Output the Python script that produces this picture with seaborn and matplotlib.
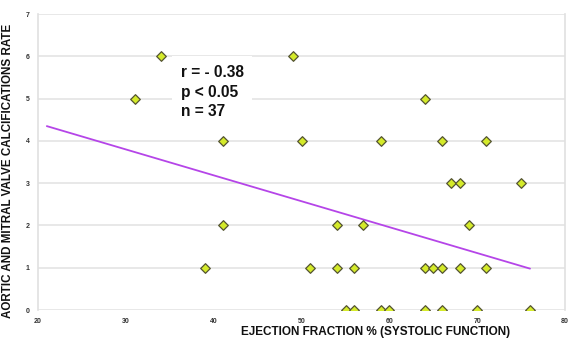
import matplotlib.pyplot as plt
import pandas as pd
import numpy as np
import seaborn as sns

# ejection fraction (%) and calcification rate
ef = [34, 49,
      31, 64,
      41, 50, 59, 66, 71,
      67, 68, 75,
      41, 54, 57, 69,
      39, 51, 54, 56, 64, 65, 66, 68, 71,
      55, 56, 59, 60, 64, 66, 70, 76]
rate = [6, 6,
        5, 5,
        4, 4, 4, 4, 4,
        3, 3, 3,
        2, 2, 2, 2,
        1, 1, 1, 1, 1, 1, 1, 1, 1,
        0, 0, 0, 0, 0, 0, 0, 0]

# trend line end points
fit_x = [21, 76]
fit_y = [4.35, 0.98]

x_ticks = [20, 30, 40, 50, 60, 70, 80]
y_ticks = [0, 1, 2, 3, 4, 5, 6, 7]

df = pd.DataFrame({"ef": ef, "rate": rate})
fit = pd.DataFrame({"x": fit_x, "y": fit_y})

sns.set_style("white")
plt.rcParams['font.family'] = ['Liberation Sans', 'DejaVu Sans']

fig = plt.figure(figsize=(5.68, 3.43), dpi=100)
ax = fig.add_axes([0.067, 0.096, 0.928, 0.863])

for yv in y_ticks:
    ax.axhline(yv, color="#e4e4e4", linewidth=1.2, zorder=0)

sns.lineplot(data=fit, x="x", y="y", color="#b545e8", linewidth=1.3, ax=ax, zorder=2)
sns.scatterplot(data=df, x="ef", y="rate", marker="D", s=24, color="#d4ea2a",
                edgecolor="#555533", linewidth=0.9, ax=ax, zorder=3)

ax.set_xlim(20, 80)
ax.set_ylim(0, 7)
ax.set_xticks(x_ticks)
ax.set_yticks(y_ticks)
ax.tick_params(axis="both", length=0, labelsize=5, labelcolor="#333333", pad=6)
for lab in ax.get_xticklabels() + ax.get_yticklabels():
    lab.set_fontweight("bold")

for side in ["top", "bottom"]:
    ax.spines[side].set_visible(False)
for side in ["left", "right"]:
    ax.spines[side].set_color("#e0e0e0")
    ax.spines[side].set_linewidth(1.2)

ax.set_xlabel("EJECTION FRACTION % (SYSTOLIC FUNCTION)", fontsize=8.5,
              fontweight="bold", color="#111111", labelpad=4)
ax.xaxis.set_label_coords(0.64, -0.055)
ax.set_ylabel("AORTIC AND MITRAL VALVE CALCIFICATIONS RATE", fontsize=8.4,
              fontweight="bold", color="#111111", labelpad=6)
ax.yaxis.set_label_coords(-0.045, 0.47)

ax.text(36.25, 5.8, "r = - 0.38\np < 0.05\nn = 37", fontsize=11.2, fontweight="bold",
        va="top", ha="left", linespacing=1.4, color="#111111",
        bbox=dict(facecolor="white", edgecolor="none", pad=6), zorder=4)

fig.savefig("out.png", dpi=100)
